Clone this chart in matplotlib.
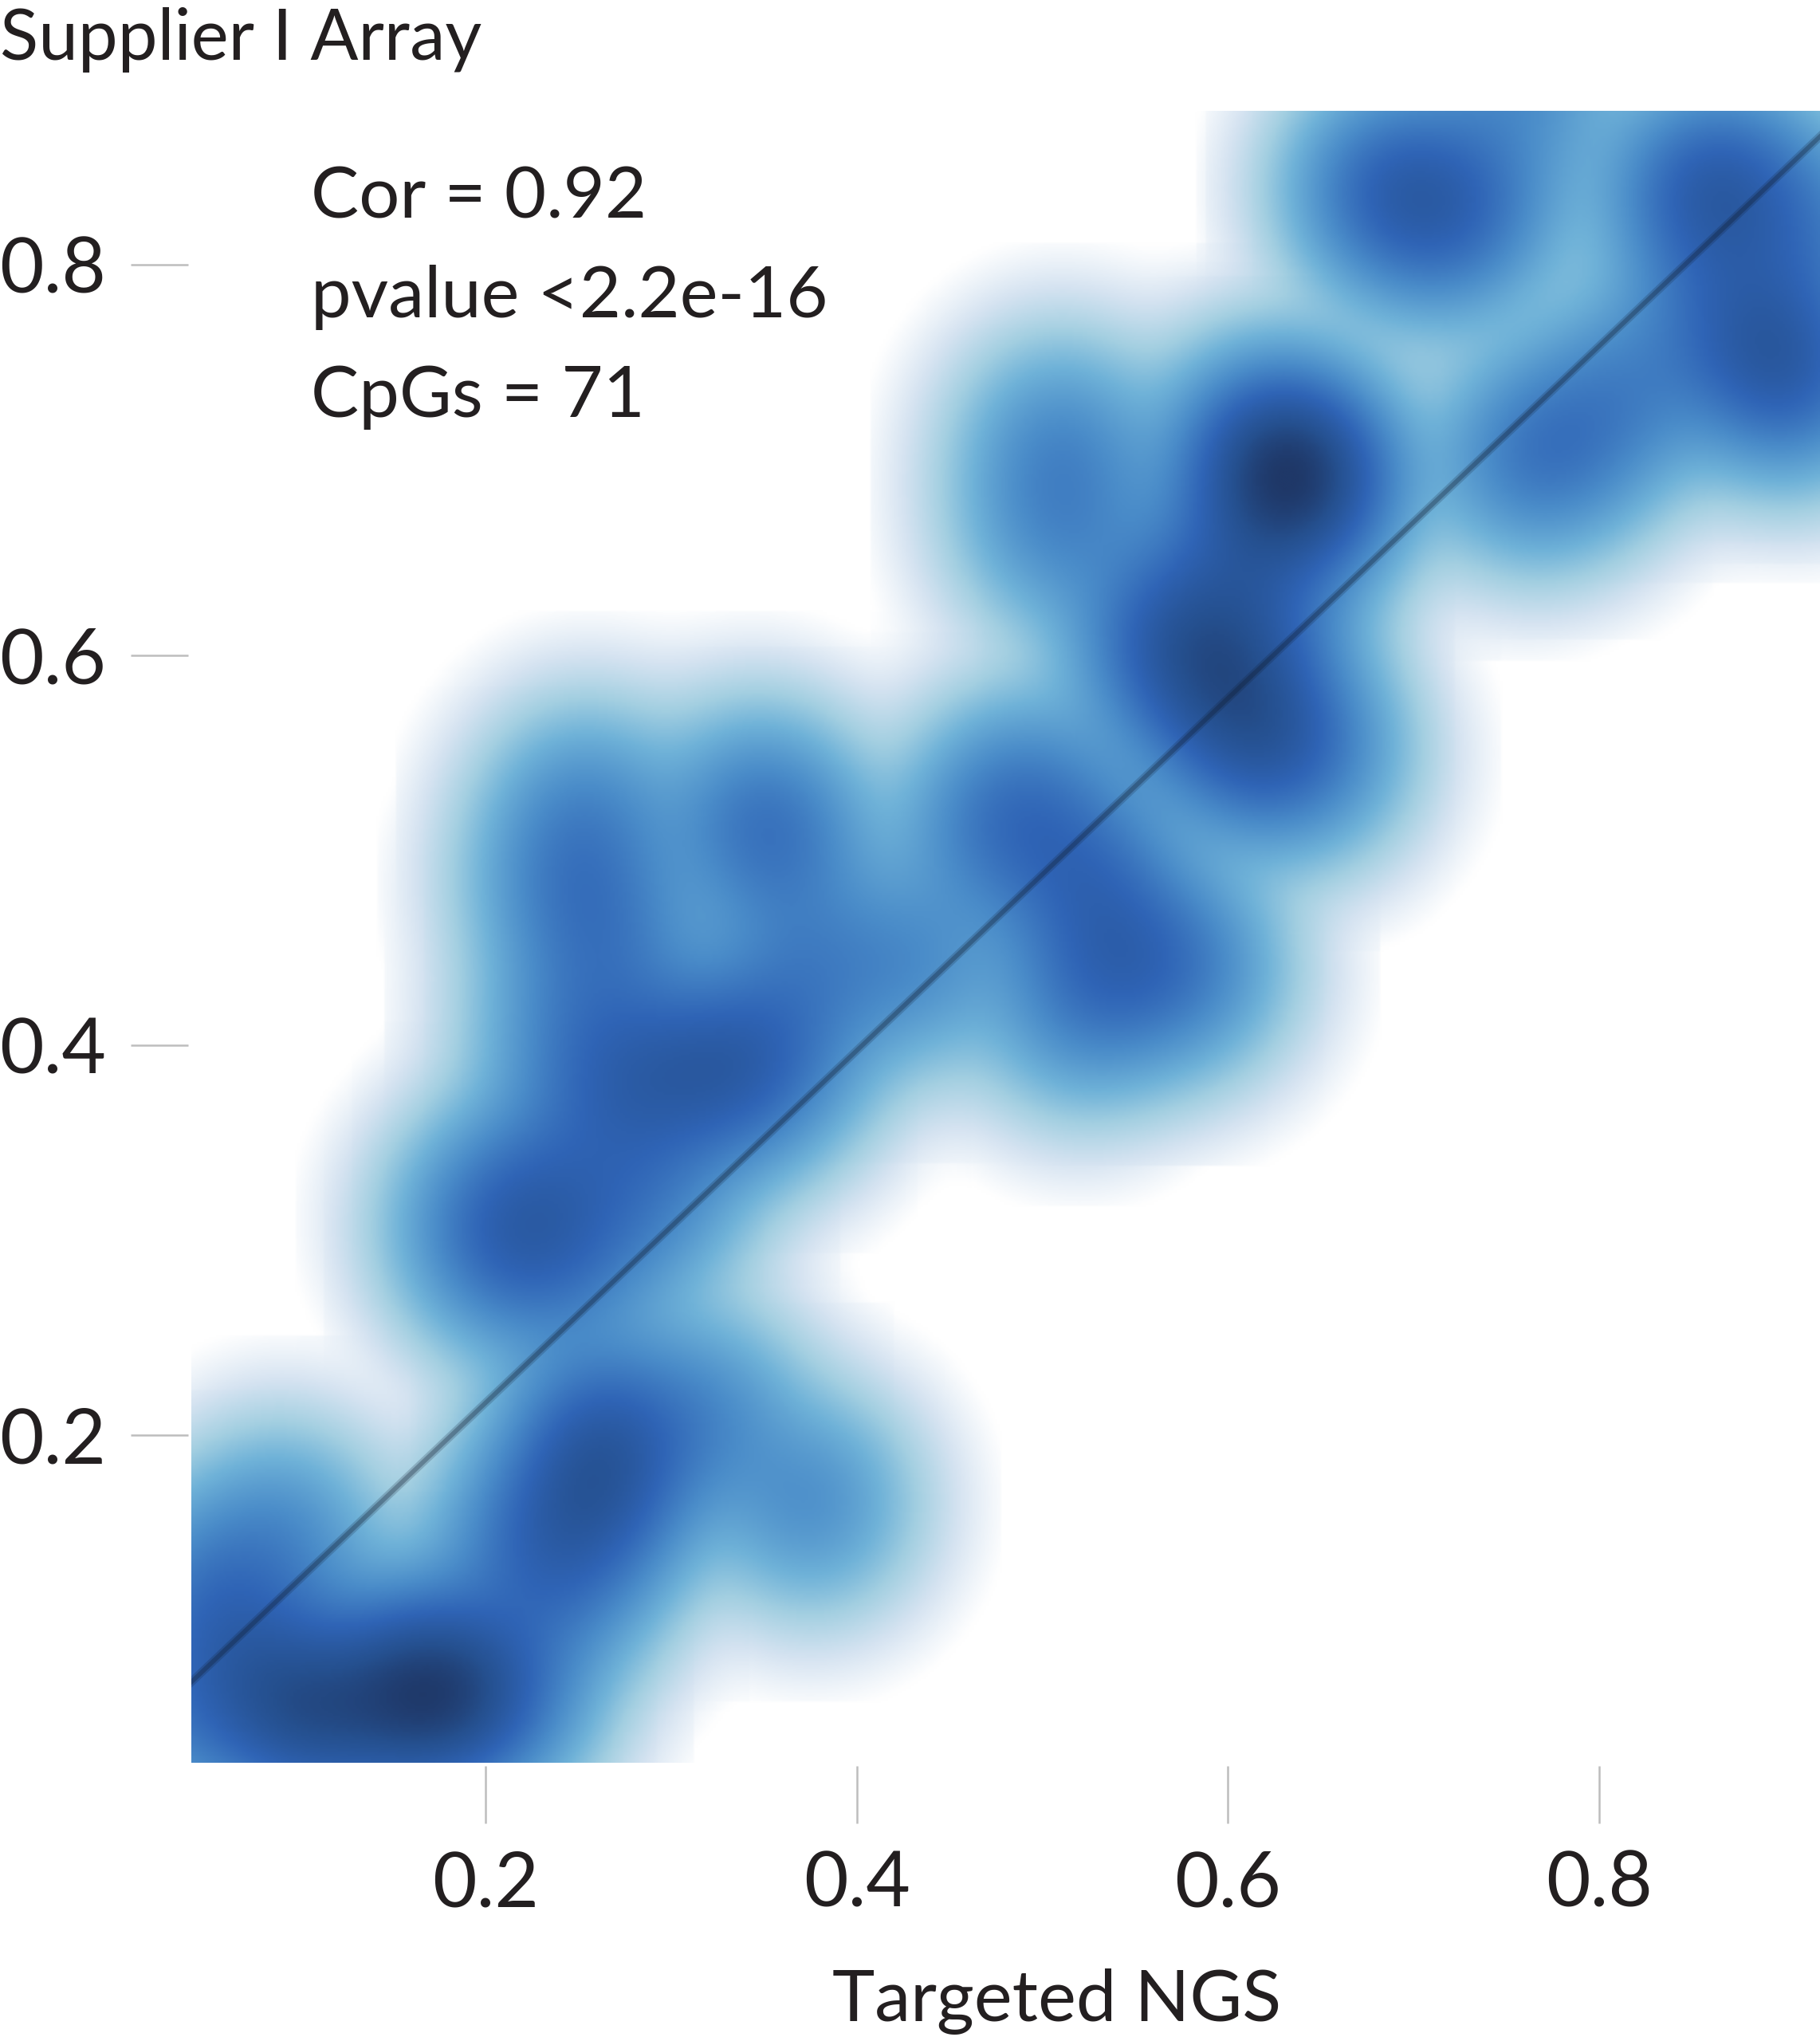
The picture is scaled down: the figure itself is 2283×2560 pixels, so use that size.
# -*- coding: utf-8 -*-
import numpy as np
from matplotlib import pyplot as plt
from matplotlib.colors import LinearSegmentedColormap

plt.rcParams['font.family'] = ['Lato', 'DejaVu Sans']

# CpG positions estimated from the density picture
ngs = [.09, .05, .096, .09, .102, .058, .036, .166, .166, .172, .155, .19, .21, .125,
       .261, .265, .255, .262, .219, .375, .318, .24,
       .2, .215, .23, .247, .289, .289, .324, .33, .359, .247, .268, .244, .254, .268,
       .359, .345, .373,
       .429, .472, .493, .521, .53, .55, .52, .58,
       .566, .57, .591, .6, .612, .62, .645, .633, .633, .633, .64, .612, .647, .6, .62,
       .51, .51,
       .76, .785, .851, .86, .69, .715, .735, .685, .9, .905, .89, .865, .879, .818, .917, .76]
array = [.148, .12, .065, .06, .058, .095, .055, .068, .068, .062, .074, .066, .068, .05,
         .205, .195, .17, .16, .148, .165, .21, .12,
         .31, .29, .33, .295, .322, .388, .392, .38, .395, .409, .368, .482, .52, .455,
         .502, .52, .442,
         .442, .509, .529, .495, .47, .44, .42, .44,
         .615, .6, .595, .58, .555, .56, .55, .692, .692, .692, .7, .709, .682, .65, .62,
         .709, .666,
         .7, .71, .836, .84, .84, .82, .835, .84, .749, .74, .76, .782, .842, .739, .816, .895]

fit_intercept = 0.036
fit_slope = 0.903

x_ticks = [0.2, 0.4, 0.6, 0.8]
y_ticks = [0.2, 0.4, 0.6, 0.8]
tick_labels = ['0.2', '0.4', '0.6', '0.8']
stats_lines = ['Cor = 0.92', 'pvalue <2.2e-16', 'CpGs = 71']

XLIM = (0.0414, 0.919)
YLIM = (0.032, 0.879)
BW = 0.031
CUT = 3.3


def density(px, py, gx, gy):
    # smoothScatter style kernel density, kernels cut off at CUT sd
    z = np.zeros((len(gy), len(gx)))
    for a, b in zip(px, py):
        dx = (gx - a) / BW
        dy = (gy - b) / BW
        kx = np.exp(-0.5 * dx ** 2) * (np.abs(dx) <= CUT)
        ky = np.exp(-0.5 * dy ** 2) * (np.abs(dy) <= CUT)
        z += np.outer(ky, kx)
    return z


gx = np.linspace(XLIM[0], XLIM[1], 700)
gy = np.linspace(YLIM[0], YLIM[1], 700)
z = density(np.array(ngs), np.array(array), gx, gy) ** 0.25
z = z / z.max()

cmap = LinearSegmentedColormap.from_list('blues_sm', [
    (0.00, '#ffffff'), (0.14, '#ffffff'), (0.28, '#d5e3f1'), (0.42, '#a3cfe1'), (0.54, '#6fb2d8'),
    (0.68, '#4a8cc9'), (0.81, '#2f64b6'), (0.92, '#25508f'), (1.00, '#1f3868')])

fig = plt.figure(figsize=(22.83, 25.6), dpi=100)
ax = fig.add_axes([240 / 2283, 1 - 2211 / 2560, (2283 - 240) / 2283, (2211 - 139) / 2560])
ax.imshow(z, origin='lower', extent=[XLIM[0], XLIM[1], YLIM[0], YLIM[1]], cmap=cmap,
          vmin=0, vmax=1, aspect='auto', interpolation='bilinear')

# fit line is soft in the original, so a wide faint pass under a narrow one
lx = np.array(XLIM)
ax.plot(lx, fit_intercept + fit_slope * lx, color='#101c30', alpha=0.2, lw=7.5)
ax.plot(lx, fit_intercept + fit_slope * lx, color='#101c30', alpha=0.3, lw=4)
ax.set_xlim(XLIM)
ax.set_ylim(YLIM)

for s in ax.spines.values():
    s.set_visible(False)
ax.spines['left'].set_position(('outward', 3))
ax.spines['bottom'].set_position(('outward', 3))
ax.set_xticks(x_ticks)
ax.set_xticklabels(tick_labels)
ax.set_yticks(y_ticks)
ax.set_yticklabels(tick_labels)
ax.tick_params(axis='x', length=52, width=1.8, color='#bdbdbd', pad=24, labelsize=69, labelcolor='#231f20')
ax.tick_params(axis='y', length=52, width=1.8, color='#bdbdbd', pad=22, labelsize=69, labelcolor='#231f20')

fig.text(0, 1 - 75 / 2560, 'Supplier I Array', fontsize=64, color='#231f20', va='baseline', ha='left')
fig.text(1326 / 2283, 1 - 2535 / 2560, 'Targeted NGS', fontsize=65, color='#231f20', va='baseline', ha='center')
for i, t in enumerate(stats_lines):
    fig.text(390 / 2283, 1 - (273 + i * 125) / 2560, t, fontsize=65, color='#231f20', va='baseline', ha='left')

fig.savefig('out.png', dpi=100)
